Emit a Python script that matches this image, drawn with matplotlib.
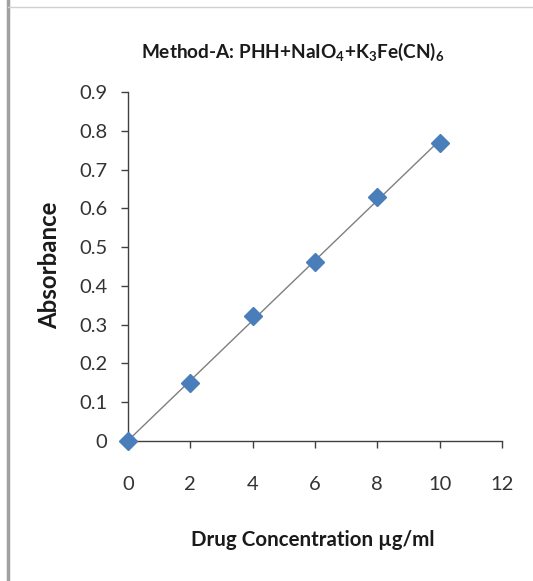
import numpy as np
import matplotlib
matplotlib.use("Agg")
import matplotlib.pyplot as plt
from matplotlib.lines import Line2D

conc = [0, 2, 4, 6, 8, 10]
absorbance = [0.0, 0.149, 0.322, 0.461, 0.629, 0.768]
xticks = [0, 2, 4, 6, 8, 10, 12]
yticks = [0, 0.1, 0.2, 0.3, 0.4, 0.5, 0.6, 0.7, 0.8, 0.9]
ytick_labels = ["0", "0.1", "0.2", "0.3", "0.4", "0.5", "0.6", "0.7", "0.8", "0.9"]
title = r"Method-A: PHH+NaIO$_4$+K$_3$Fe(CN)$_6$"

plt.rcParams['font.family'] = ['Lato', 'DejaVu Sans']
plt.rcParams['mathtext.default'] = 'regular'

W, H = 533, 581
fig = plt.figure(figsize=(W/100, H/100), dpi=100)
fig.patch.set_facecolor('white')

ax = fig.add_axes([128/W, 1-441/H, (502-128)/W, (441-92)/H])

# trend line (least squares fit)
coef = np.polyfit(conc, absorbance, 1)
xs = np.array([conc[0], conc[-1]])
ax.plot(xs, np.polyval(coef, xs), color='#7f7f7f', lw=1.0, zorder=2)
ax.plot(conc, absorbance, linestyle='none', marker='D', markersize=9.5,
        color='#4a7ebb', markeredgecolor='#4a7ebb', zorder=3, clip_on=False)

ax.set_xlim(0, 12)
ax.set_ylim(0, 0.9)
ax.set_xticks(xticks)
ax.set_yticks(yticks)
ax.set_yticklabels(ytick_labels)
for s in ['top', 'right']:
    ax.spines[s].set_visible(False)
for s in ['left', 'bottom']:
    ax.spines[s].set_color('#404040')
    ax.spines[s].set_linewidth(1.0)
ax.tick_params(direction='out', length=5, width=1.0, color='#404040',
               labelsize=14.5, labelcolor='#333333')
ax.tick_params(axis='x', pad=20)
ax.tick_params(axis='y', pad=10)

fig.text(50/W, 1-265/H, "Absorbance", fontsize=17.3, fontweight='bold', color='#1a1a1a',
         rotation=90, ha='center', va='center')
fig.text(313/W, 1-540/H, "Drug Concentration µg/ml", fontsize=14.8, fontweight='bold',
         color='#1a1a1a', ha='center', va='center')
fig.text(293/W, 1-52/H, title, fontsize=13.7, fontweight='bold', color='#1a1a1a',
         ha='center', va='center')

# frame edges
fig.add_artist(Line2D([8/W, 8/W], [0, 1], transform=fig.transFigure, color='#a0a0a0', lw=2.5))
fig.add_artist(Line2D([8/W, 1], [1-7/H, 1-7/H], transform=fig.transFigure, color='#d0d0d0', lw=1))

fig.savefig("out.png", dpi=100)
